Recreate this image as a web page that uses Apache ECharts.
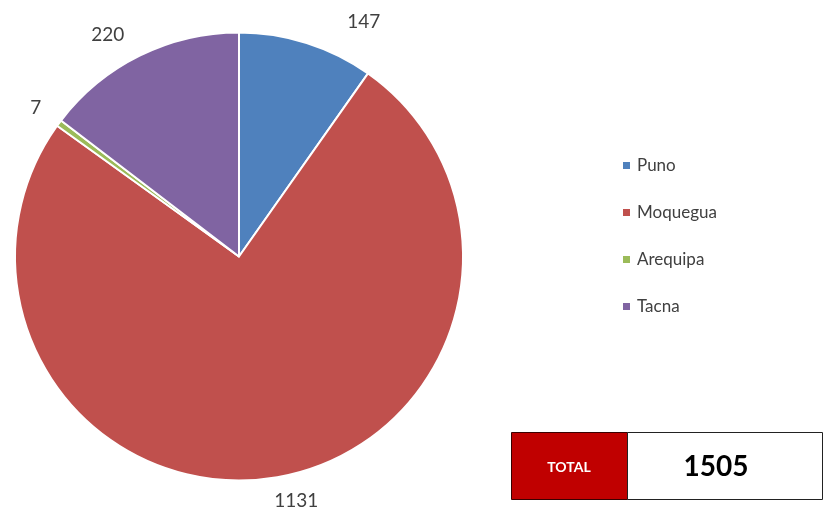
<!DOCTYPE html>
<html>
<head>
<meta charset="utf-8">
<script src="https://cdn.jsdelivr.net/npm/echarts@6/dist/echarts.min.js"></script>
<style>html,body{margin:0;padding:0;background:#fff}#c{width:825px;height:514px}</style>
</head>
<body>
<div id="c"></div>
<script>
const categories = ['Puno', 'Moquegua', 'Arequipa', 'Tacna'];
const values = [147, 1131, 7, 220];
const colors = ['#4F81BD', '#C0504D', '#9BBB59', '#8064A2'];
const totalLabel = 'TOTAL';
const totalValue = 1505;
// fine label nudges (style only), per slice
const labelNudge = [[35, -10], [-6, 12], [-6, -8], [-8, -10]];

const chart = echarts.init(document.getElementById('c'));
const FONT = 'Lato';
chart.setOption({
  animation: false,
  textStyle: { fontFamily: FONT },
  legend: {
    orient: 'vertical',
    left: 616,
    top: 152,
    itemWidth: 9,
    itemHeight: 9,
    itemGap: 30,
    icon: 'rect',
    data: categories,
    textStyle: { fontSize: 17, color: '#404040', fontFamily: FONT, padding: [0, 0, 0, 1] }
  },
  series: [{
    type: 'pie',
    center: [239, 256.5],
    radius: 224,
    startAngle: 90,
    clockwise: true,
    avoidLabelOverlap: false,
    itemStyle: { borderColor: '#fff', borderWidth: 2 },
    label: {
      show: true,
      position: 'outside',
      formatter: '{c}',
      fontSize: 19,
      color: '#404040',
      fontFamily: FONT,
      distanceToLabelLine: 2
    },
    labelLine: { show: false, length: 12, length2: 0 },
    labelLayout: function (p) {
      const n = labelNudge[p.dataIndex] || [0, 0];
      return { dx: n[0], dy: n[1] };
    },
    emphasis: { disabled: true },
    data: categories.map((n, i) => ({ name: n, value: values[i], itemStyle: { color: colors[i] } }))
  }],
  graphic: [
    { type: 'rect', shape: { x: 511.5, y: 432.5, width: 116, height: 67 }, style: { fill: '#C00000', stroke: '#3a0000', lineWidth: 1 } },
    { type: 'rect', shape: { x: 627.5, y: 432.5, width: 195, height: 67 }, style: { fill: '#fff', stroke: '#222', lineWidth: 1 } },
    { type: 'text', x: 569, y: 467, style: { text: totalLabel, fill: '#fff', font: 'bold 14px ' + FONT, align: 'center', verticalAlign: 'middle' } },
    { type: 'text', x: 716, y: 467, style: { text: String(totalValue), fill: '#000', font: 'bold 28px ' + FONT, align: 'center', verticalAlign: 'middle' } }
  ]
});
</script>
</body>
</html>
